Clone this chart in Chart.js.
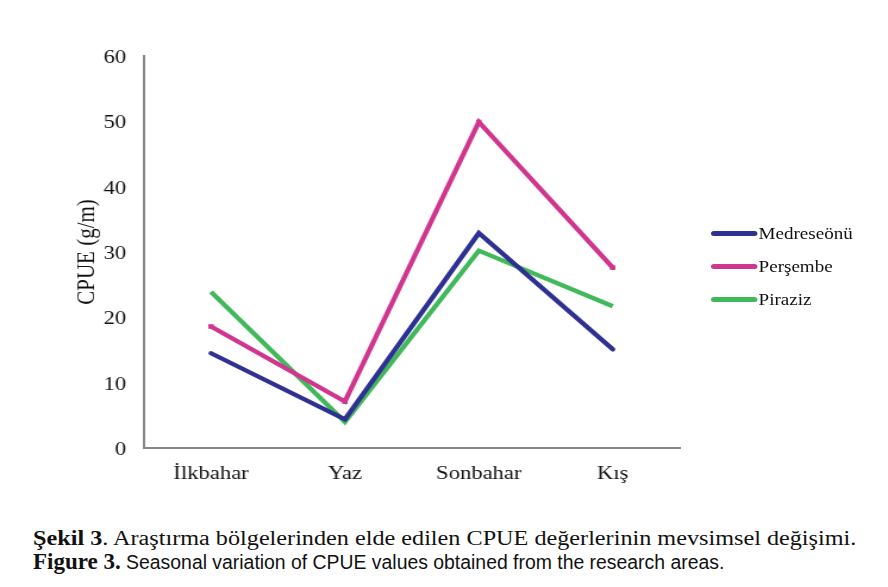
<!DOCTYPE html>
<html>
<head>
<meta charset="utf-8">
<script src="https://cdn.jsdelivr.net/npm/chart.js@4.4.1/dist/chart.umd.min.js"></script>
<style>
  html, body { margin: 0; padding: 0; background: #fff; }
  #wrap { position: relative; width: 888px; height: 587px; overflow: hidden; }
  #c { position: absolute; left: 0; top: 0; }
  #legend { position: absolute; left: 711px; top: 217px; font-family: "Liberation Serif", "Times New Roman", serif; font-size: 16px; color: #111; transform: scaleX(1.19); transform-origin: 0 0; white-space: nowrap; }
  .li { display: flex; align-items: center; height: 33px; }
  .sw { width: 39px; height: 5px; border-radius: 3px; margin-right: 1px; }
  #cap { position: absolute; left: 33px; top: 527px; font-family: "Liberation Serif", "Times New Roman", serif; font-size: 20px; color: #111; line-height: 23px; white-space: nowrap; }
  #cap .l1 { transform: scaleX(1.21); transform-origin: 0 0; }
  #cap .l2 { font-family: "Liberation Sans", Arial, sans-serif; font-size: 19.4px; }
  #cap .l2 b { font-family: "Liberation Serif", serif; font-size: 23px; }
</style>
</head>
<body>
<div id="wrap">
  <canvas id="c" width="746" height="500" style="width:888px;height:500px;"></canvas>
  <div id="legend"></div>
  <div id="cap">
    <div class="l1"><b>Şekil 3</b>. Araştırma bölgelerinden elde edilen CPUE değerlerinin mevsimsel değişimi.</div>
    <div class="l2"><b>Figure 3.</b> Seasonal variation of CPUE values obtained from the research areas.</div>
  </div>
</div>
<script>
const categories = ["İlkbahar", "Yaz", "Sonbahar", "Kış"];
const seriesNames = ["Medreseönü", "Perşembe", "Piraziz"];
const medreseonu = [14.5, 4.4, 32.9, 15.1];
const persembe = [18.6, 7.1, 49.9, 27.6];
const piraziz = [23.9, 4.0, 30.2, 21.7];
const colors = ["#2E3192", "#D1368F", "#41B85A"];
const yTicks = [0, 10, 20, 30, 40, 50, 60];

const seriesValues = [medreseonu, persembe, piraziz];
const serif = "'Liberation Serif', 'Times New Roman', serif";

const datasets = seriesNames.map((n, i) => ({
  label: n,
  data: seriesValues[i],
  borderColor: colors[i],
  backgroundColor: colors[i],
  borderWidth: 4.3,
  borderCapStyle: i === 0 ? 'round' : 'butt',
  borderJoinStyle: 'miter',
  pointStyle: 'rect',
  pointRadius: i === 1 ? 3.2 : 0,
  pointBorderWidth: 0,
  tension: 0,
  fill: false
}));

new Chart(document.getElementById('c'), {
  type: 'line',
  data: { labels: categories, datasets },
  options: {
    responsive: false,
    animation: false,
    devicePixelRatio: 1,
    layout: { padding: { left: 0, top: 56, right: 175, bottom: 2 } },
    plugins: { legend: { display: false }, tooltip: { enabled: false } },
    scales: {
      x: {
        offset: true,
        grid: { display: false, drawTicks: false, tickLength: 0 },
        border: { display: true, color: '#888', width: 2 },
        ticks: { color: '#111', font: { family: serif, size: 19 }, padding: 15 },
        afterFit: s => { s.height = 50; }
      },
      y: {
        min: 0, max: 60,
        afterBuildTicks: s => { s.ticks = yTicks.map(v => ({ value: v })); },
        grid: { display: false, drawTicks: false, tickLength: 0 },
        border: { display: true, color: '#888', width: 2 },
        ticks: { color: '#111', font: { family: serif, size: 19 }, padding: 15, labelOffset: 2 },
        title: { display: true, text: 'CPUE (g/m)', color: '#111', font: { family: serif, size: 21 }, padding: { top: 61, bottom: 0 } },
        afterFit: s => { s.width = 121; }
      }
    }
  }
});

const lg = document.getElementById('legend');
seriesNames.forEach((n, i) => {
  const d = document.createElement('div');
  d.className = 'li';
  d.innerHTML = '<span class="sw" style="background:' + colors[i] + '"></span><span>' + n + '</span>';
  lg.appendChild(d);
});
</script>
</body>
</html>
